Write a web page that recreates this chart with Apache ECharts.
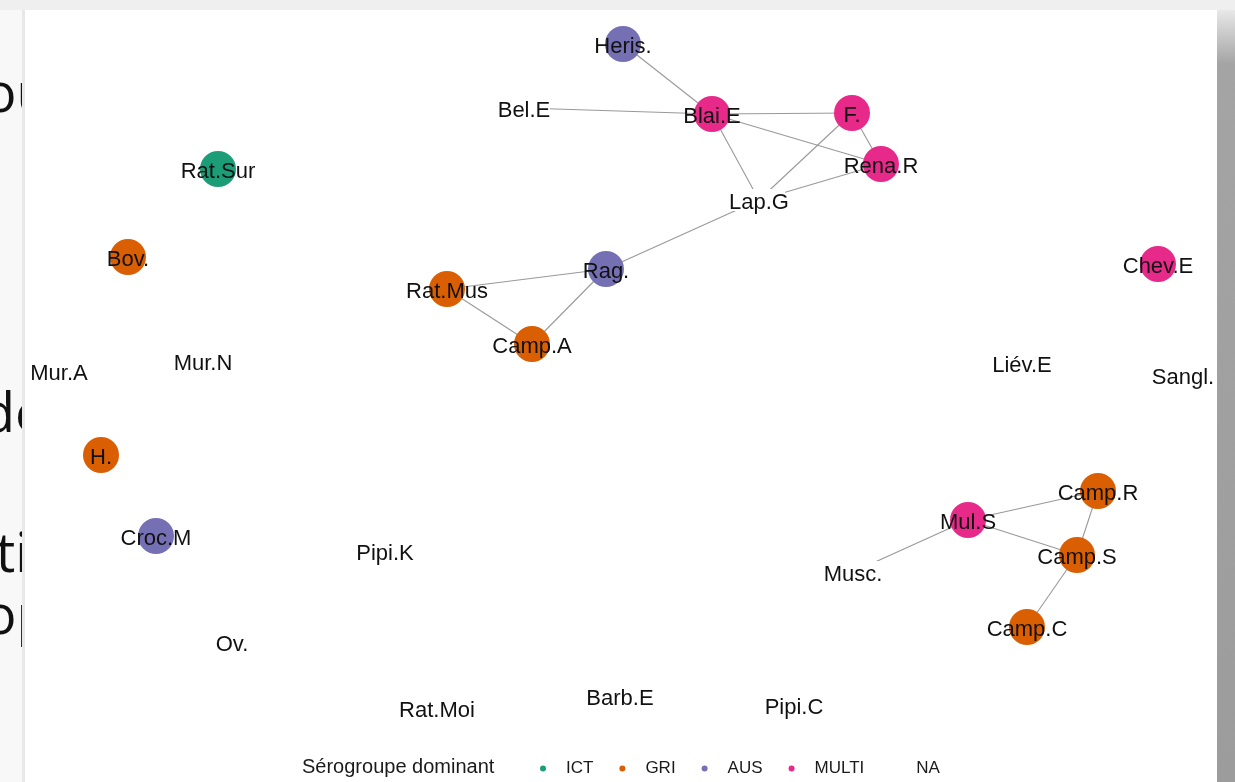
<!DOCTYPE html>
<html>
<head>
<meta charset="utf-8">
<script src="https://cdn.jsdelivr.net/npm/echarts@6/dist/echarts.min.js"></script>
<style>
  html, body { margin: 0; padding: 0; background: #f8f8f8; }
  #chart { width: 1235px; height: 782px; }
</style>
</head>
<body>
<div id="chart"></div>
<script>
// noeuds du réseau (positions de la mise en page)
const nodeNames = ['Heris.', 'Bel.E', 'Blai.E', 'F.', 'Rena.R', 'Lap.G', 'Rat.Sur', 'Bov.', 'Rag.', 'Rat.Mus',
  'Camp.A', 'Chev.E', 'Mur.A', 'Mur.N', 'Liév.E', 'Sangl.', 'H.', 'Croc.M', 'Pipi.K', 'Mul.S',
  'Camp.R', 'Camp.S', 'Musc.', 'Camp.C', 'Ov.', 'Rat.Moi', 'Barb.E', 'Pipi.C'];
const nodeX = [623, 524, 712, 852, 881, 759, 218, 128, 606, 447,
  532, 1158, 59, 203, 1022, 1183, 101, 156, 385, 968,
  1098, 1077, 853, 1027, 232, 437, 620, 794];
const nodeY = [44, 108, 114, 113, 164, 200, 169, 257, 269, 289,
  344, 264, 371, 361, 363, 375, 455, 536, 551, 520,
  491, 555, 572, 627, 642, 708, 696, 705];
const nodeGroup = ['AUS', 'NA', 'MULTI', 'MULTI', 'MULTI', 'NA', 'ICT', 'GRI', 'AUS', 'GRI',
  'GRI', 'MULTI', 'NA', 'NA', 'NA', 'NA', 'GRI', 'AUS', 'NA', 'MULTI',
  'GRI', 'GRI', 'NA', 'GRI', 'NA', 'NA', 'NA', 'NA'];

// liens
const linkFrom = ['Heris.', 'Bel.E', 'Blai.E', 'Blai.E', 'Blai.E', 'F.', 'F.', 'Rena.R', 'Lap.G',
  'Rag.', 'Rag.', 'Rat.Mus', 'Mul.S', 'Mul.S', 'Mul.S', 'Camp.R', 'Camp.S'];
const linkTo = ['Blai.E', 'Blai.E', 'F.', 'Rena.R', 'Lap.G', 'Rena.R', 'Lap.G', 'Lap.G', 'Rag.',
  'Rat.Mus', 'Camp.A', 'Camp.A', 'Camp.R', 'Camp.S', 'Musc.', 'Camp.S', 'Camp.C'];

const groups = ['ICT', 'GRI', 'AUS', 'MULTI', 'NA'];
const groupColors = ['#1B9E77', '#D95F02', '#7570B3', '#E7298A', 'rgba(0,0,0,0)'];

const chart = echarts.init(document.getElementById('chart'));

let nodes = nodeNames.map((name, i) => {
  let item = {
    name: name,
    value: [nodeX[i], nodeY[i]],
    category: groups.indexOf(nodeGroup[i])
  };
  if (nodeGroup[i] === 'NA') {
    item.symbol = 'rect';
    item.symbolSize = [name.length * 10 + 2, 22];
    item.itemStyle = { color: '#fff' };
  }
  return item;
});

let links = linkFrom.map((s, i) => ({ source: s, target: linkTo[i] }));

let bgText = (txt, x, y) => ({
  type: 'text', x: x, y: y, z: 1,
  style: { text: txt, fill: '#111', font: '54px "Open Sans", sans-serif', textVerticalAlign: 'bottom' }
});

var option = {
  animation: false,
  backgroundColor: '#f8f8f8',
  graphic: {
    elements: [
      { type: 'rect', shape: { x: 0, y: 0, width: 1235, height: 10 }, style: { fill: '#efefef' }, z: 0 },
      bgText('ou', -16, 124),
      bgText('de', -18, 444),
      bgText('ti', -4, 584),
      bgText('op', -16, 646),
      { type: 'rect', shape: { x: 22, y: 10, width: 3, height: 772 }, style: { fill: '#e8e8e8' }, z: 2 },
      { type: 'rect', shape: { x: 25, y: 10, width: 1192, height: 772 }, style: { fill: '#ffffff' }, z: 3 },
      {
        type: 'rect', shape: { x: 1217, y: 10, width: 18, height: 772 }, z: 20,
        style: {
          fill: new echarts.graphic.LinearGradient(0, 0, 0, 1, [
            { offset: 0, color: '#e8e8e8' },
            { offset: 0.07, color: '#a4a4a4' },
            { offset: 1, color: '#9c9c9c' }
          ])
        }
      },
      {
        type: 'text', x: 302, y: 767, z: 4,
        style: {
          text: 'Sérogroupe dominant', fill: '#1a1a1a',
          font: '20px "Liberation Sans", Arial, sans-serif',
          textVerticalAlign: 'middle'
        }
      }
    ]
  },
  legend: {
    data: groups.map(g => g === 'NA'
      ? { name: g, itemStyle: { opacity: 0 } }
      : { name: g }),
    left: 535,
    top: 755,
    orient: 'horizontal',
    icon: 'circle',
    itemWidth: 6,
    itemHeight: 6,
    itemGap: 26,
    selectedMode: false,
    textStyle: {
      color: '#1a1a1a',
      fontSize: 17,
      padding: [0, 0, 0, 15],
      fontFamily: '"Liberation Sans", Arial, sans-serif'
    }
  },
  grid: { left: 0, right: 0, top: 0, bottom: 0 },
  xAxis: { type: 'value', min: 0, max: 1235, show: false },
  yAxis: { type: 'value', min: 0, max: 782, inverse: true, show: false },
  series: [{
    type: 'graph',
    coordinateSystem: 'cartesian2d',
    z: 5,
    symbolSize: 36,
    categories: groups.map((g, i) => ({ name: g, itemStyle: { color: groupColors[i] } })),
    data: nodes,
    links: links,
    label: {
      show: true,
      position: 'inside',
      offset: [0, 3],
      color: '#111',
      fontSize: 22,
      fontFamily: '"Liberation Sans", Arial, sans-serif'
    },
    lineStyle: { color: '#999', width: 1.1, opacity: 1, curveness: 0 },
    emphasis: { disabled: true }
  }]
};

chart.setOption(option);
</script>
</body>
</html>
